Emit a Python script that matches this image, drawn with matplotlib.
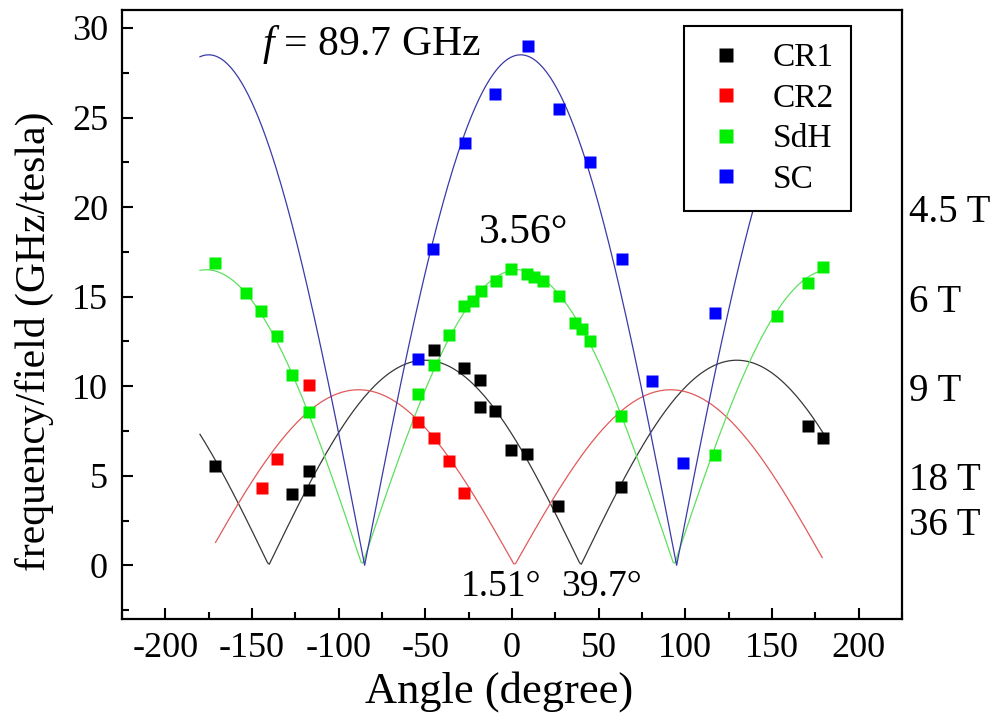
import numpy as np
import matplotlib
matplotlib.use("Agg")
import matplotlib.pyplot as plt
from matplotlib.ticker import MultipleLocator

plt.rcParams['font.family'] = ['Liberation Serif', 'DejaVu Serif']
plt.rcParams['mathtext.fontset'] = 'custom'
plt.rcParams['mathtext.rm'] = 'Liberation Serif'
plt.rcParams['mathtext.it'] = 'Liberation Serif:italic'
plt.rcParams['axes.unicode_minus'] = False

# measured points: angle (deg), frequency/field (GHz/T)
cr1_ang = [-171.6, -126.7, -117.1, -117.1, -44.8, -27.5, -18.2, -18.2, -9.5, -0.5, 8.8, 26.8, 63.1, 171.0, 179.7]
cr1_val = [5.55, 4.0, 4.23, 5.27, 12.0, 11.04, 10.33, 8.84, 8.6, 6.42, 6.2, 3.32, 4.37, 7.78, 7.08]

cr2_ang = [-144.4, -135.4, -117.1, -54.0, -44.8, -36.1, -27.5]
cr2_val = [4.32, 5.92, 10.06, 8.0, 7.13, 5.81, 4.04]

sdh_ang = [-171.6, -153.6, -144.6, -135.4, -126.7, -117.1, -54.0, -44.8, -36.1, -27.5, -22.7, -17.8,
           -9.1, -0.5, 8.6, 13.0, 17.8, 27.1, 36.1, 40.3, 44.8, 63.1, 117.1, 152.7, 171.0, 179.7]
sdh_val = [16.85, 15.2, 14.2, 12.8, 10.6, 8.56, 9.55, 11.2, 12.85, 14.5, 14.75, 15.3,
           15.9, 16.57, 16.24, 16.1, 15.9, 15.03, 13.5, 13.2, 12.5, 8.34, 6.18, 13.9, 15.74, 16.67]

sc_ang = [-54.0, -45.4, -26.9, -9.5, 9.0, 26.9, 44.8, 63.3, 80.6, 98.6, 117.1]
sc_val = [11.5, 17.65, 23.6, 26.3, 29.0, 25.5, 22.5, 17.1, 10.3, 5.7, 14.1]

# fitted |cos| / |sin| curves: amplitude and angle offset (deg)
cr1_amp, cr1_zero = 11.45, 39.7
cr2_amp, cr2_zero = 9.8, 1.51
sdh_amp, sdh_peak = 16.5, 3.56
sc_amp, sc_peak = 28.5, 5.0

# right axis: field at which f = 89.7 GHz
freq = 89.7
fields = [4.5, 6, 9, 18, 36]
field_labels = ['4.5 T', '6 T', '9 T', '18 T', '36 T']

th = np.arange(-180, 181, 1.0)
th_cr2 = np.arange(-171, 180, 1.0)

fig = plt.figure(figsize=(9.94, 7.23), dpi=100)
ax = fig.add_axes([0.1227, 0.1438, 0.7847, 0.8423])

ax.plot(th, cr1_amp * np.abs(np.sin(np.radians(th - cr1_zero))), color='#383838', lw=0.9, zorder=2)
ax.plot(th_cr2, cr2_amp * np.abs(np.sin(np.radians(th_cr2 - cr2_zero))), color='#e05a5a', lw=0.9, zorder=2)
ax.plot(th, sdh_amp * np.abs(np.cos(np.radians(th - sdh_peak))), color='#5ee05e', lw=0.9, zorder=2)
ax.plot(th, sc_amp * np.abs(np.cos(np.radians(th - sc_peak))), color='#3a3aa8', lw=0.9, zorder=2)

ms = 9
ax.plot(cr1_ang, cr1_val, 's', color='black', ms=ms, mec='none', label='CR1', zorder=3)
ax.plot(cr2_ang, cr2_val, 's', color='#ff0000', ms=ms, mec='none', label='CR2', zorder=3)
ax.plot(sdh_ang, sdh_val, 's', color='#00ee00', ms=ms, mec='none', label='SdH', zorder=3)
ax.plot(sc_ang, sc_val, 's', color='#0000ff', ms=ms, mec='none', label='SC', zorder=3)

ax.set_xlim(-225, 225)
ax.set_ylim(-3, 31)
ax.xaxis.set_major_locator(MultipleLocator(50))
ax.xaxis.set_minor_locator(MultipleLocator(25))
ax.yaxis.set_major_locator(MultipleLocator(5))
ax.yaxis.set_minor_locator(MultipleLocator(2.5))
ax.tick_params(which='both', direction='in', right=True, top=False, width=1.5, labelsize=26)
ax.tick_params(which='major', length=8)
ax.tick_params(which='minor', length=5)
ax.tick_params(axis='y', pad=10)
ax.tick_params(axis='x', pad=9)
for s in ax.spines.values():
    s.set_linewidth(1.6)

ax.set_xlabel('Angle (degree)', fontsize=32)
ax.xaxis.set_label_coords(0.483, -0.085)
ax.set_ylabel('frequency/field (GHz/tesla)', fontsize=30)
ax.yaxis.set_label_coords(-0.087, 0.456)

ax2 = ax.twinx()
ax2.set_ylim(ax.get_ylim())
ax2.set_yticks([freq / b for b in fields])
ax2.set_yticklabels(field_labels)
ax2.tick_params(axis='y', length=0, pad=5, labelsize=28)
for s in ax2.spines.values():
    s.set_visible(False)

ax.text(-144, 28.5, r'$f$ = 89.7 GHz', fontsize=30, ha='left', va='baseline')
ax.text(7, 18.0, '3.56°', fontsize=30, ha='center', va='baseline')
ax.text(-6, -1.7, '1.51°', fontsize=27, ha='center', va='baseline')
ax.text(51.7, -1.7, '39.7°', fontsize=27, ha='center', va='baseline')

leg = ax2.legend(*ax.get_legend_handles_labels(), loc='upper right',
                 bbox_to_anchor=(0.9346, 0.9737), borderaxespad=0, fontsize=24,
                 fancybox=False, framealpha=1, edgecolor='black', markerscale=1.1,
                 handlelength=1.5, handletextpad=0.66, labelspacing=0.3,
                 borderpad=0.5)
leg.get_frame().set_linewidth(1.5)
leg.set_zorder(10)

fig.savefig('out.png', dpi=100)
